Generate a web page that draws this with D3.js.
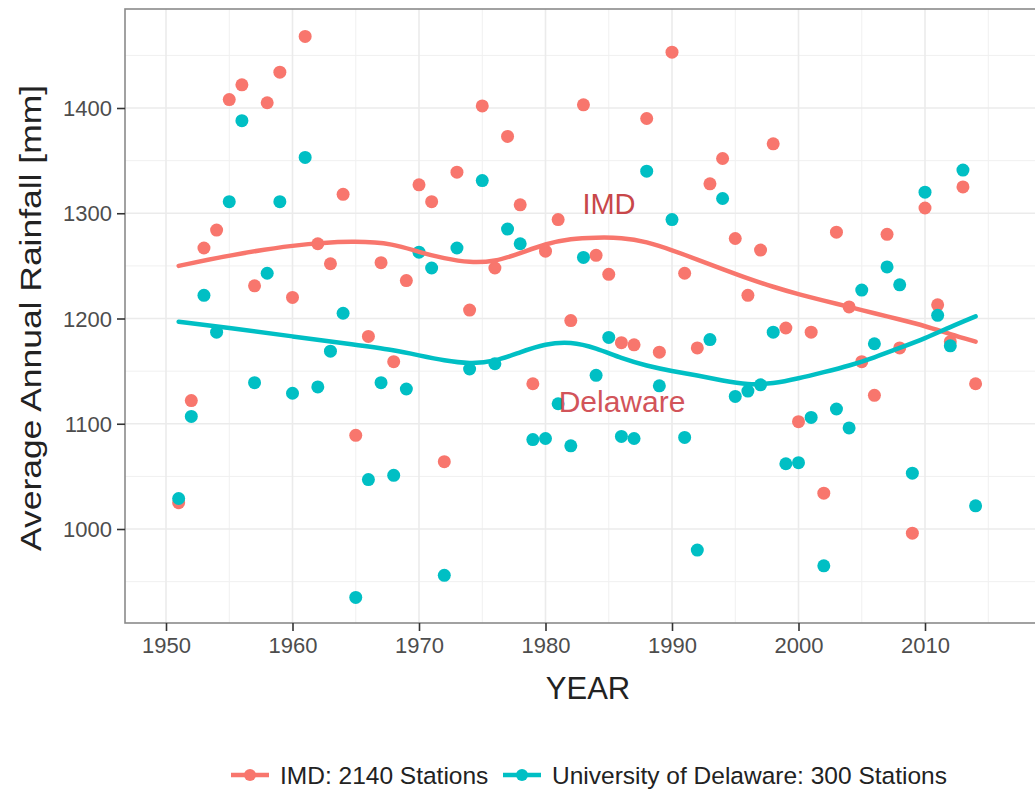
<!DOCTYPE html>
<html>
<head>
<meta charset="utf-8">
<script src="https://cdn.jsdelivr.net/npm/d3@7"></script>
<style>
  body { margin: 0; background: #fff; }
  text { font-family: "Liberation Sans", Arial, sans-serif; }
</style>
</head>
<body>
<div id="chart"></div>
<script>
var width = 1035;
var height = 793;

// years 1951..2014
var years = d3.range(1951, 2015);

var imdRain = [1025, 1122, 1267, 1284, 1408, 1422, 1231, 1405, 1434, 1220,
  1468, 1271, 1252, 1318, 1089, 1183, 1253, 1159, 1236, 1327,
  1311, 1064, 1339, 1208, 1402, 1248, 1373, 1308, 1138, 1264,
  1294, 1198, 1403, 1260, 1242, 1177, 1175, 1390, 1168, 1453,
  1243, 1172, 1328, 1352, 1276, 1222, 1265, 1366, 1191, 1102,
  1187, 1034, 1282, 1211, 1159, 1127, 1280, 1172, 996, 1305,
  1213, 1178, 1325, 1138];

var delRain = [1029, 1107, 1222, 1187, 1311, 1388, 1139, 1243, 1311, 1129,
  1353, 1135, 1169, 1205, 935, 1047, 1139, 1051, 1133, 1263,
  1248, 956, 1267, 1152, 1331, 1157, 1285, 1271, 1085, 1086,
  1119, 1079, 1258, 1146, 1182, 1088, 1086, 1340, 1136, 1294,
  1087, 980, 1180, 1314, 1126, 1131, 1137, 1187, 1062, 1063,
  1106, 965, 1114, 1096, 1227, 1176, 1249, 1232, 1053, 1320,
  1203, 1174, 1341, 1022];

// smoothed trend lines
var smoothYears = [1951, 1955, 1960, 1965, 1968, 1970, 1972, 1974, 1976, 1978, 1980, 1982, 1984, 1986,
  1988, 1990, 1992, 1994, 1996, 1998, 2000, 2002, 2004, 2006, 2008, 2010, 2012, 2014];
var imdSmooth = [1250, 1260, 1270, 1274, 1271, 1263, 1257, 1253, 1254, 1262, 1271, 1276, 1277, 1277,
  1273, 1265, 1256, 1247, 1238, 1230, 1223, 1217, 1211, 1205, 1199, 1193, 1185, 1178];
var delSmooth = [1197, 1191, 1183, 1175, 1170, 1165, 1160, 1157, 1159, 1168, 1176, 1178, 1172, 1162,
  1155, 1150, 1146, 1141, 1137, 1138, 1143, 1149, 1155, 1163, 1172, 1181, 1192, 1202];

var xTicks = [1950, 1960, 1970, 1980, 1990, 2000, 2010];
var xMinor = [1955, 1965, 1975, 1985, 1995, 2005, 2015];
var yTicks = [1000, 1100, 1200, 1300, 1400];
var yMinor = [950, 1050, 1150, 1250, 1350, 1450];

var seriesNames = ["IMD: 2140 Stations", "University of Delaware: 300 Stations"];
var colors = ["#F8766D", "#00BFC4"];

var panel = {left: 125, top: 9, right: 1045, bottom: 623};

var x = d3.scaleLinear()
  .domain([1950, 2010])
  .range([166, 925]);

var y = d3.scaleLinear()
  .domain([1000, 1400])
  .range([529, 108]);

var svg = d3.select('#chart')
  .append('svg')
  .attr('width', width)
  .attr('height', height);

// grid
var grid = svg.append('g');
grid.selectAll('.xminor').data(xMinor).enter().append('line')
  .attr('x1', d => x(d)).attr('x2', d => x(d))
  .attr('y1', panel.top).attr('y2', panel.bottom)
  .attr('stroke', '#f0f0f0').attr('stroke-width', 1);
grid.selectAll('.yminor').data(yMinor).enter().append('line')
  .attr('x1', panel.left).attr('x2', panel.right)
  .attr('y1', d => y(d)).attr('y2', d => y(d))
  .attr('stroke', '#f0f0f0').attr('stroke-width', 1);
grid.selectAll('.xmajor').data(xTicks).enter().append('line')
  .attr('x1', d => x(d)).attr('x2', d => x(d))
  .attr('y1', panel.top).attr('y2', panel.bottom)
  .attr('stroke', '#ebebeb').attr('stroke-width', 1.6);
grid.selectAll('.ymajor').data(yTicks).enter().append('line')
  .attr('x1', panel.left).attr('x2', panel.right)
  .attr('y1', d => y(d)).attr('y2', d => y(d))
  .attr('stroke', '#ebebeb').attr('stroke-width', 1.6);

// panel border
svg.append('rect')
  .attr('x', panel.left).attr('y', panel.top)
  .attr('width', panel.right - panel.left).attr('height', panel.bottom - panel.top)
  .attr('fill', 'none').attr('stroke', '#8a8a8a').attr('stroke-width', 1.6);

// axes
var xAxis = svg.append('g')
  .attr('transform', `translate(0, ${panel.bottom})`)
  .call(d3.axisBottom(x).tickValues(xTicks).tickFormat(d3.format('d')).tickSizeInner(8).tickSizeOuter(0).tickPadding(6));
var yAxis = svg.append('g')
  .attr('transform', `translate(${panel.left}, 0)`)
  .call(d3.axisLeft(y).tickValues(yTicks).tickFormat(d3.format('d')).tickSizeInner(8).tickSizeOuter(0).tickPadding(5));

[xAxis, yAxis].forEach(function(a) {
  a.select('.domain').remove();
  a.selectAll('line').attr('stroke', '#333').attr('stroke-width', 1.6);
  a.selectAll('text').attr('fill', '#4d4d4d').style('font-size', '22px');
});
yAxis.selectAll('text').attr('dy', '0.35em');

// points
var series = [imdRain, delRain];
series.forEach(function(vals, i) {
  svg.append('g').selectAll('circle')
    .data(vals)
    .enter()
    .append('circle')
    .attr('cx', (d, j) => x(years[j]))
    .attr('cy', d => y(d))
    .attr('r', 6.5)
    .attr('fill', colors[i]);
});

// trend lines
var line = d3.line()
  .x((d, j) => x(smoothYears[j]))
  .y(d => y(d))
  .curve(d3.curveBasis);

[imdSmooth, delSmooth].forEach(function(vals, i) {
  svg.append('path')
    .attr('d', line(vals))
    .attr('fill', 'none')
    .attr('stroke', colors[i])
    .attr('stroke-width', 4.5)
    .attr('stroke-linecap', 'round');
});

// labels on the plot
svg.append('text')
  .attr('x', 609).attr('y', 214)
  .attr('text-anchor', 'middle')
  .attr('fill', '#c8474a')
  .style('font-size', '29px')
  .text('IMD');
svg.append('text')
  .attr('x', 622).attr('y', 412)
  .attr('text-anchor', 'middle')
  .attr('fill', '#d2545a')
  .style('font-size', '30px')
  .text('Delaware');

// axis titles
svg.append('text')
  .attr('x', 588).attr('y', 699)
  .attr('text-anchor', 'middle')
  .attr('fill', '#222')
  .style('font-size', '31px')
  .text('YEAR');
svg.append('text')
  .attr('transform', 'translate(41, 318) rotate(-90)')
  .attr('text-anchor', 'middle')
  .attr('fill', '#222')
  .style('font-size', '30px')
  .attr('textLength', 466)
  .attr('lengthAdjust', 'spacingAndGlyphs')
  .text('Average Annual Rainfall [mm]');

// legend
var legend = svg.append('g').attr('transform', 'translate(0, 775)');
var legX = [231, 503];
seriesNames.forEach(function(name, i) {
  var g = legend.append('g').attr('transform', `translate(${legX[i]}, 0)`);
  g.append('line')
    .attr('x1', 0).attr('x2', 38).attr('y1', 0).attr('y2', 0)
    .attr('stroke', colors[i]).attr('stroke-width', 4.5);
  g.append('circle')
    .attr('cx', 19).attr('cy', 0).attr('r', 6).attr('fill', colors[i]);
  g.append('text')
    .attr('x', 49).attr('y', 0).attr('dy', '0.35em')
    .attr('fill', '#222')
    .style('font-size', '24.5px')
    .text(name);
});
</script>
</body>
</html>
